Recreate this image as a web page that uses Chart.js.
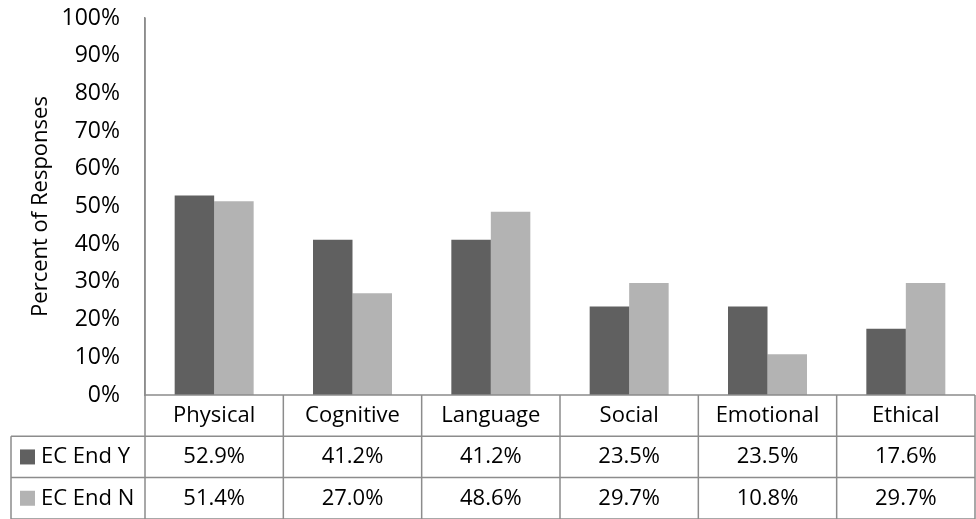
<!DOCTYPE html>
<html>
<head>
<meta charset="utf-8">
<script src="https://cdn.jsdelivr.net/npm/chart.js@4"></script>
<style>
  body { margin: 0; background: #fff; }
  #wrap { width: 976px; height: 519px; }
</style>
</head>
<body>
<div id="wrap"><canvas id="domainChart"></canvas></div>
<script>
// Domains of development and the share of responses per group
const categories = ['Physical', 'Cognitive', 'Language', 'Social', 'Emotional', 'Ethical'];
const seriesNames = ['EC End Y', 'EC End N'];
const endYes = [52.9, 41.2, 41.2, 23.5, 23.5, 17.6];
const endNo = [51.4, 27.0, 48.6, 29.7, 10.8, 29.7];

const DARK = '#606060';
const LIGHT = '#b3b3b3';
const LINE = '#8c8c8c';
const FONT = "'Open Sans', sans-serif";

// Excel-style data table under the plot: header row with categories, one row per series
const dataTable = {
    id: 'dataTable',
    afterDraw(chart) {
        const { ctx, chartArea } = chart;
        const x = chart.scales.x;
        const colW = x.width / categories.length;
        const rowH = 41.3;
        const top = chartArea.bottom;
        const tableLeft = 11;

        ctx.save();
        ctx.strokeStyle = LINE;
        ctx.lineWidth = 1.5;

        // horizontal rules
        ctx.beginPath();
        ctx.moveTo(chartArea.left, top);
        ctx.lineTo(chartArea.right, top);
        for (let r = 1; r <= 3; r++) {
            ctx.moveTo(tableLeft, top + rowH * r);
            ctx.lineTo(chartArea.right, top + rowH * r);
        }
        // vertical rules
        ctx.moveTo(tableLeft, top + rowH);
        ctx.lineTo(tableLeft, top + rowH * 3);
        ctx.moveTo(chartArea.left, chartArea.top);
        ctx.lineTo(chartArea.left, top + rowH * 3);
        categories.forEach((c, i) => {
            const edge = x.getPixelForValue(i) + colW / 2;
            ctx.moveTo(edge, top);
            ctx.lineTo(edge, top + rowH * 3);
        });
        ctx.stroke();

        ctx.fillStyle = '#000';
        ctx.font = '22px ' + FONT;
        ctx.textBaseline = 'middle';
        ctx.textAlign = 'center';
        categories.forEach((c, i) => {
            const cx = x.getPixelForValue(i);
            ctx.fillText(c, cx, top + rowH * 0.5);
            ctx.fillText(endYes[i].toFixed(1) + '%', cx, top + rowH * 1.5);
            ctx.fillText(endNo[i].toFixed(1) + '%', cx, top + rowH * 2.5);
        });

        // series keys
        const colors = [DARK, LIGHT];
        ctx.textAlign = 'left';
        seriesNames.forEach((name, s) => {
            const cy = top + rowH * (s + 1.5);
            ctx.fillStyle = colors[s];
            ctx.fillRect(20, cy - 7.5, 15, 15);
            ctx.fillStyle = '#000';
            ctx.fillText(name, 41, cy);
        });
        ctx.restore();
    }
};

new Chart(document.getElementById('domainChart'), {
    type: 'bar',
    data: {
        labels: categories,
        datasets: [
            { label: seriesNames[0], data: endYes, backgroundColor: DARK },
            { label: seriesNames[1], data: endNo, backgroundColor: LIGHT }
        ]
    },
    options: {
        responsive: true,
        maintainAspectRatio: false,
        animation: false,
        layout: { padding: { top: 18, right: 1, bottom: 124, left: 0 } },
        datasets: { bar: { categoryPercentage: 0.571, barPercentage: 1 } },
        plugins: { legend: { display: false }, tooltip: { enabled: false } },
        scales: {
            x: { display: false },
            y: {
                min: 0,
                max: 100,
                ticks: {
                    stepSize: 10,
                    padding: 25,
                    color: '#000',
                    font: { family: FONT, size: 23 },
                    callback: v => v + '%'
                },
                grid: { display: false, drawTicks: false },
                border: { display: true, color: LINE, width: 1.5 },
                title: {
                    display: true,
                    text: 'Percent of Responses',
                    color: '#000',
                    font: { family: FONT, size: 22 },
                    padding: { top: 28, bottom: 0 }
                },
                afterFit(scale) {
                    scale.width = 145;
                    scale.paddingTop = 0;
                    scale.paddingBottom = 0;
                }
            }
        }
    },
    plugins: [dataTable]
});
</script>
</body>
</html>
